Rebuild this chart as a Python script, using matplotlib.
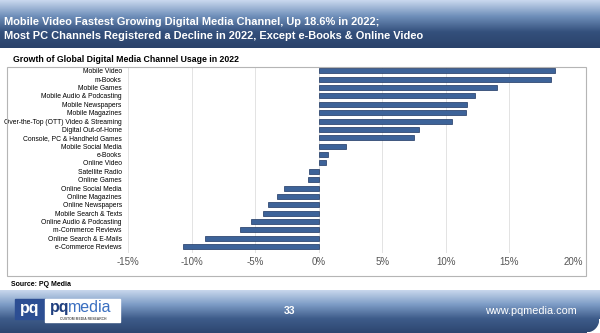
import numpy as np
import matplotlib.pyplot as plt
from matplotlib.patches import Rectangle, Polygon
from matplotlib.colors import LinearSegmentedColormap

plt.rcParams['font.family'] = ['Liberation Sans', 'DejaVu Sans']

channels = [
    "Mobile Video", "m-Books", "Mobile Games", "Mobile Audio & Podcasting",
    "Mobile Newspapers", "Mobile Magazines", "Over-the-Top (OTT) Video & Streaming",
    "Digital Out-of-Home", "Console, PC & Handheld Games", "Mobile Social Media",
    "e-Books", "Online Video", "Satellite Radio", "Online Games",
    "Online Social Media", "Online Magazines", "Online Newspapers",
    "Mobile Search & Texts", "Online Audio & Podcasting", "m-Commerce Reviews",
    "Online Search & E-Mails", "e-Commerce Reviews",
]
growth = [18.6, 18.3, 14.0, 12.3, 11.7, 11.6, 10.5, 7.85, 7.5, 2.15,
          0.7, 0.55, -0.75, -0.85, -2.75, -3.3, -4.0, -4.4, -5.35, -6.2,
          -8.95, -10.65]
xticks = [-15, -10, -5, 0, 5, 10, 15, 20]

title = ("Mobile Video Fastest Growing Digital Media Channel, Up 18.6% in 2022;\n"
         "Most PC Channels Registered a Decline in 2022, Except e-Books & Online Video")
subtitle = "Growth of Global Digital Media Channel Usage in 2022"

fig = plt.figure(figsize=(6, 3.33), dpi=100)
W, H = 600, 333

def fx(x):
    return x / W

def fy(y):
    return 1 - y / H

# header banner
cmap = LinearSegmentedColormap.from_list("hdr", ["#c9d8ee", "#6f8fba", "#34507c", "#2a426a"])
hax = fig.add_axes([0, fy(48), 1, 48 / H])
hax.imshow(np.linspace(0, 1, 100).reshape(-1, 1), aspect='auto', cmap=cmap,
           extent=[0, 1, 0, 1], origin='upper')
hax.axis('off')
fig.text(fx(4), fy(29), title, color='white', fontsize=7.9, fontweight='bold',
         va='center', ha='left', linespacing=1.55)

# footer banner
fcmap = LinearSegmentedColormap.from_list("ftr", ["#c8d7ec", "#7d9cc6", "#3e5c8a", "#2d4670"])
fax = fig.add_axes([0, 0, 1, (H - 290) / H])
fax.imshow(np.linspace(0, 1, 100).reshape(-1, 1), aspect='auto', cmap=fcmap,
           extent=[0, 1, 0, 1], origin='upper')
fax.set_xlim(0, 1)
fax.set_ylim(0, 1)
fax.axis('off')
# white curl at the bottom right corner
t = np.linspace(0, np.pi / 2, 20)
curl = [(1 - (13 / W) * (1 - np.cos(a)), 0.32 * (1 - np.sin(a))) for a in t]
fax.add_patch(Polygon([(1, 0)] + curl, closed=True, color='white', transform=fax.transAxes))
# logo
fax.add_patch(Rectangle((15 / W, 0.33), 30 / W, 0.47, color='#2c4e93', transform=fax.transAxes))
fax.add_patch(Rectangle((45 / W, 0.26), 75 / W, 0.54, color='white', transform=fax.transAxes))
fax.text(30 / W, 0.56, "pq", color='white', fontsize=11.5, fontweight='bold',
         ha='center', va='center', transform=fax.transAxes)
fax.text(50 / W, 0.6, "pq", color='#1f3f7f', fontsize=11.5, fontweight='bold',
         ha='left', va='center', transform=fax.transAxes)
fax.text(68 / W, 0.6, "media", color='#3a6fc0', fontsize=11.5,
         ha='left', va='center', transform=fax.transAxes)
fax.text(83 / W, 0.33, "CUSTOM MEDIA RESEARCH", color='#555555', fontsize=2.4,
         fontweight='bold', ha='center', va='center', transform=fax.transAxes)
fig.text(fx(290), fy(311.5), "33", color='white', fontsize=7.5, fontweight='bold',
         ha='center', va='center')
fig.text(fx(531), fy(311.5), "www.pqmedia.com", color='white', fontsize=7.8,
         ha='center', va='center')

# subtitle and chart frame
fig.text(fx(13), fy(60), subtitle, fontsize=6.3, fontweight='bold', va='center')
fig.add_artist(Rectangle((fx(7), fy(276)), (586 - 7) / W, (276 - 67) / H,
                         transform=fig.transFigure, fill=False, edgecolor='#b5b5b5', lw=0.8))
fig.text(fx(11), fy(285), "Source: PQ Media", fontsize=5, fontweight='bold', va='center')

# bar chart
ax = fig.add_axes([fx(128), fy(253), (573 - 128) / W, (253 - 67) / H])
pos = np.arange(len(channels))
ax.barh(pos, growth, height=0.6, color='#3d6399', edgecolor='#1d3561', linewidth=0.5, zorder=3)
ax.set_ylim(len(channels) - 0.25, -0.45)
ax.set_xlim(-15, 20)
ax.set_xticks(xticks)
ax.set_xticklabels([f"{t}%" for t in xticks], color='#555555', fontsize=7)
ax.set_yticks(pos)
ax.set_yticklabels(channels, fontsize=4.9)
ax.tick_params(axis='both', length=0, pad=3)
ax.tick_params(axis='y', pad=4.5)
ax.grid(axis='x', color='#e3e3e3', lw=0.7, zorder=0)
for s in ax.spines.values():
    s.set_visible(False)

fig.savefig("out.png", dpi=100)
